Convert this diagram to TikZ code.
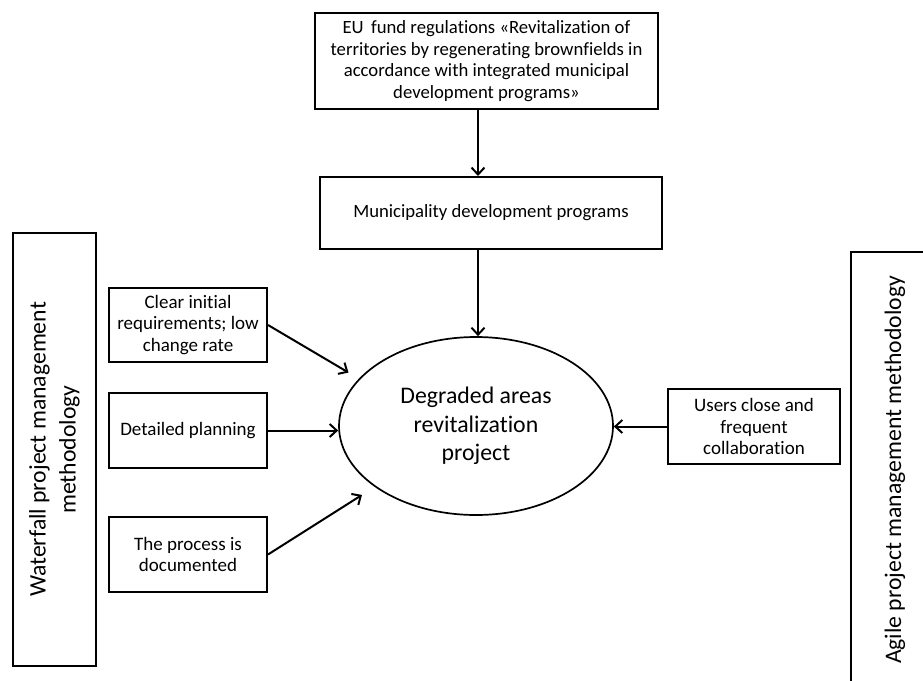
\documentclass[tikz,border=0pt]{standalone}
\usepackage{fontspec}
\setmainfont[Ligatures=CommonOff]{Carlito}
\usetikzlibrary{arrows.meta,calc,shapes.geometric}
\begin{document}
\begin{tikzpicture}[x=1pt,y=-1pt,
  box/.style={draw, line width=2pt, align=center, inner sep=0pt, font=\fontsize{19}{21.7}\selectfont},
  bigtext/.style={font=\fontsize{23.7}{30}\selectfont},
  arr/.style={line width=2pt, -{Straight Barb[length=7pt,width=13pt,line width=2pt]}}]
\useasboundingbox (0,0) rectangle (923,680);
\clip (0,0) rectangle (923,680);
\fill[white] (0,0) rectangle (923,680);
\coordinate (colx) at (478,0);
% top boxes
\node[box, minimum width=343, minimum height=96, font=\fontsize{18.7}{21.7}\selectfont] (eu) at (486.5,61)
  {EU\, fund regulations «Revitalization of\\territories by regenerating brownfields in\\accordance with integrated municipal\\development programs»};
\node[box, minimum width=342, minimum height=72, font=\fontsize{18.7}{21.7}\selectfont] (mdp) at (491,213)
  {Municipality development programs};
% ellipse
\node[draw, ellipse, line width=1.7pt, minimum width=274, minimum height=178, inner sep=0pt, align=center,
  font=\fontsize{23.8}{28.3}\selectfont] (ell) at (476,426)
  {Degraded areas\\revitalization\\project};
% side methodology boxes
\node[box, bigtext, rotate=90, minimum width=433, minimum height=83] (wf) at (54.5,449.5)
  {Waterfall project management\\methodology};
\node[box, bigtext, rotate=90, minimum width=436, minimum height=88] (ag) at (895,470)
  {Agile project management methodology};
% factor boxes
\node[box, minimum width=158, minimum height=74] (clear) at (188,325)
  {Clear initial\\requirements; low\\change rate};
\node[box, minimum width=158, minimum height=75] (det) at (188,430.5)
  {Detailed planning};
\node[box, minimum width=158, minimum height=75] (proc) at (188,554.5)
  {The process is\\documented};
\node[box, minimum width=172, minimum height=75] (users) at (754,426.5)
  {Users close and\\frequent\\collaboration};
% connectors
\draw[arr] (eu.south -| colx) -- (mdp.north -| colx);
\draw[arr] (mdp.south -| colx) -- (ell.north -| colx);
\draw[arr, shorten >=12pt] (clear.east) -- (ell.158);
\draw[arr] (det.east) -- (det.east -| ell.west);
\draw[arr, shorten >=15pt] (proc.east) -- (ell.211);
\draw[arr] (users.west) -- (users.west -| ell.east);
\end{tikzpicture}
\end{document}
